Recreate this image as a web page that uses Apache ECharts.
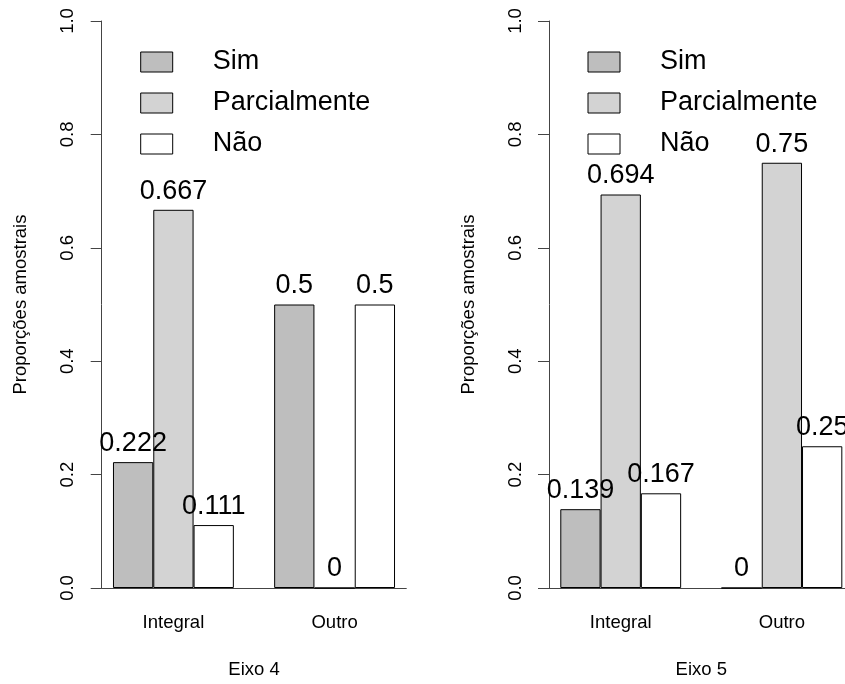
<!DOCTYPE html>
<html>
<head>
<meta charset="utf-8">
<script src="https://cdn.jsdelivr.net/npm/echarts@6/dist/echarts.min.js"></script>
<style>html,body{margin:0;padding:0;background:#fff;overflow:hidden}#c{width:870px;height:684px}</style>
</head>
<body>
<div id="c"></div>
<script>
const categories = ['Integral', 'Outro'];
const groupNames = ['Sim', 'Parcialmente', 'Não'];
const panelTitles = ['Eixo 4', 'Eixo 5'];
const yLabel = 'Proporções amostrais';
const eixo4Sim = [0.222, 0.5];
const eixo4Parcial = [0.667, 0];
const eixo4Nao = [0.111, 0.5];
const eixo5Sim = [0.139, 0];
const eixo5Parcial = [0.694, 0.75];
const eixo5Nao = [0.167, 0.25];
const yTicks = [0, 0.2, 0.4, 0.6, 0.8, 1.0];

const panels = [
  [eixo4Sim, eixo4Parcial, eixo4Nao],
  [eixo5Sim, eixo5Parcial, eixo5Nao]
];
const colors = ['#BEBEBE', '#D3D3D3', '#FFFFFF'];
const FONT = 'Liberation Sans, Arial, sans-serif';
const XMIN = 0.72, XMAX = 8.28;
const GRID_W = 304.6, GRID_H = 569, GRID_TOP = 21;
const gridLefts = [101.7, 549];
const barW = GRID_W / (XMAX - XMIN);
const groupCenter = g => 1 + g * 4 + 1.5;
const barX = (g, k) => 1 + g * 4 + k + 0.5;

const grids = [], xAxes = [], yAxes = [], series = [], legends = [];
panels.forEach((vals, p) => {
  grids.push({left: gridLefts[p], top: GRID_TOP, width: GRID_W, height: GRID_H});
  xAxes.push({
    type: 'value', gridIndex: p, min: XMIN, max: XMAX,
    splitLine: {show: false},
    axisLine: {show: true, lineStyle: {color: '#444', width: 1}},
    axisTick: {show: false},
    axisLabel: {
      customValues: categories.map((c, g) => groupCenter(g)),
      formatter: v => { const i = categories.findIndex((c, g) => Math.abs(groupCenter(g) - v) < 1e-6); return i >= 0 ? categories[i] : ''; },
      margin: 25, fontSize: 18.5, color: '#000', fontFamily: FONT
    },
    name: panelTitles[p], nameLocation: 'middle', nameGap: 72,
    nameTextStyle: {fontSize: 18.5, color: '#000', fontFamily: FONT}
  });
  yAxes.push({
    type: 'value', gridIndex: p, min: 0, max: 1, interval: 0.2,
    splitLine: {show: false},
    axisLine: {show: true, lineStyle: {color: '#444', width: 1}},
    axisTick: {show: true, length: 11, lineStyle: {color: '#444'}},
    axisLabel: {rotate: 90, margin: 24, fontSize: 18.5, color: '#000', fontFamily: FONT,
      formatter: v => yTicks.find(t => Math.abs(t - v) < 1e-9).toFixed(1)},
    name: yLabel, nameLocation: 'middle', nameGap: 71,
    nameTextStyle: {fontSize: 18.5, color: '#000', fontFamily: FONT}
  });
  vals.forEach((arr, k) => {
    series.push({
      type: 'bar', name: groupNames[k], xAxisIndex: p, yAxisIndex: p,
      barWidth: barW, barGap: '-100%',
      data: arr.map((v, g) => [barX(g, k), v]),
      itemStyle: {color: colors[k], borderColor: '#000', borderWidth: 1},
      label: {show: true, position: 'top', distance: 5, fontSize: 27, color: '#000', fontFamily: FONT,
        formatter: prm => String(prm.value[1])},
      emphasis: {disabled: true},
      animation: false
    });
  });
  legends.push({
    left: gridLefts[p] + 38.5, top: 48.5, orient: 'vertical', padding: 0,
    data: groupNames, icon: 'rect', itemWidth: 32, itemHeight: 20, itemGap: 14,
    selectedMode: false,
    itemStyle: {borderColor: '#000', borderWidth: 1},
    textStyle: {fontSize: 27, color: '#000', fontFamily: FONT, padding: [0, 0, 0, 35]}
  });
});

const chart = echarts.init(document.getElementById('c'), null, {renderer: 'canvas'});
chart.setOption({
  backgroundColor: '#fff', animation: false,
  grid: grids, xAxis: xAxes, yAxis: yAxes, series: series, legend: legends
});
</script>
</body>
</html>
